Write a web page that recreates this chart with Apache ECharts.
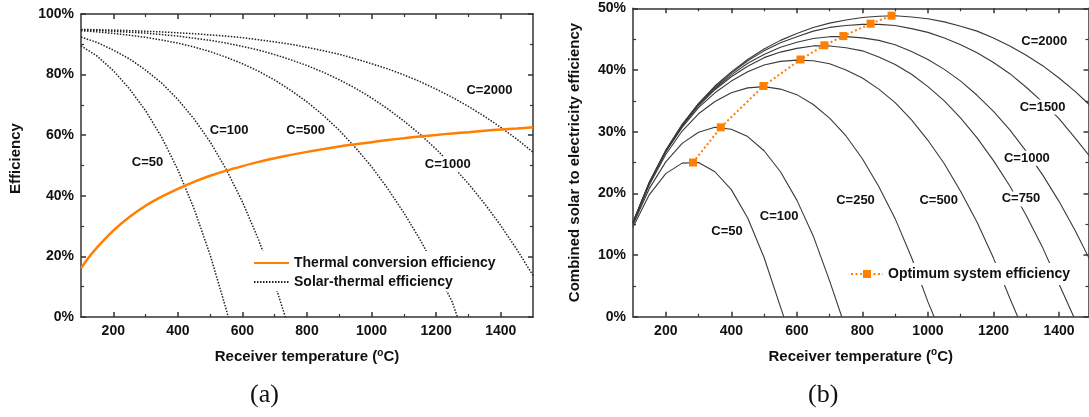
<!DOCTYPE html>
<html>
<head>
<meta charset="utf-8">
<script src="https://cdn.jsdelivr.net/npm/echarts@6/dist/echarts.min.js"></script>
<style>
  html, body { margin: 0; background: #fff; }
  #main { width: 1089px; height: 417px; }
</style>
</head>
<body>
<div id="main"></div>
<script>
// receiver temperature (°C), every 50 degrees
const temps = [100,150,200,250,300,350,400,450,500,550,600,650,700,750,800,850,900,950,1000,1050,1100,1150,1200,1250,1300,1350,1400,1450,1500];

// (a) thermal conversion efficiency (%)
const thermalT = [100,125].concat(temps.slice(1));
const thermalEff = [16.1,19.8,23.0,28.5,33.0,36.7,39.7,42.3,44.6,46.6,48.3,49.8,51.2,52.4,53.5,54.5,55.4,56.3,57.0,57.7,58.4,59.0,59.6,60.1,60.6,61.0,61.5,61.9,62.2,62.6];

// (a) solar-thermal efficiency (%) per concentration
const stT50 = temps.slice(0, 10).concat([556]);
const st50 = [89.5,86.1,81.3,75.3,68.1,59.3,48.6,35.8,20.5,2.4,0];
const stT100 = temps.slice(0, 13).concat([733]);
const st100 = [92.4,90.6,88.1,85.2,81.5,77.2,71.8,65.4,57.8,48.7,38.0,25.5,11.0,0];
const stT500 = temps.slice(0, 24).concat([1266]);
const st500 = [94.5,94.1,93.6,93.0,92.3,91.4,90.4,89.1,87.6,85.7,83.6,81.1,78.2,74.8,71.0,66.6,61.6,55.9,49.6,42.4,34.4,25.6,15.7,4.9,0];
const st1000 = [94.8,94.6,94.3,94.0,93.7,93.2,92.7,92.0,91.3,90.4,89.3,88.1,86.6,84.9,83.0,80.8,78.3,75.5,72.3,68.7,64.7,60.3,55.4,49.9,44.0,37.4,30.2,22.3,13.7];
const st2000 = [94.9,94.8,94.7,94.5,94.3,94.1,93.8,93.5,93.1,92.7,92.2,91.5,90.8,90.0,89.0,87.9,86.7,85.2,83.6,81.9,79.9,77.7,75.2,72.5,69.5,66.2,62.6,58.7,54.4];

// (b) combined solar to electricity efficiency (%)
const cT50 = temps.slice(0, 10).concat([560]);
const c50 = [14.5,19.8,23.2,24.9,25.0,23.5,20.6,16.0,9.6,1.6,0];
const cT100 = temps.slice(0, 13).concat([737]);
const c100 = [14.9,20.8,25.1,28.1,29.9,30.7,30.4,29.2,26.9,23.5,18.9,13.1,5.8,0];
const cT250 = temps.slice(0, 19).concat([1019]);
const c250 = [15.1,21.4,26.3,30.1,32.9,34.9,36.3,37.1,37.3,36.9,36.0,34.4,32.2,29.3,25.6,21.1,15.9,9.6,2.4,0];
const cT500 = temps.slice(0, 24).concat([1274]);
const c500 = [15.2,21.7,26.7,30.7,33.9,36.3,38.2,39.7,40.8,41.4,41.6,41.5,41.0,40.0,38.7,36.9,34.7,31.9,28.6,24.8,20.3,15.3,9.5,3.0,0];
const cT750 = temps.slice(0, 27).concat([1445]);
const c750 = [15.2,21.7,26.8,30.9,34.2,36.8,38.9,40.6,42.0,42.9,43.5,43.9,43.9,43.6,43.1,42.1,40.9,39.3,37.3,35.0,32.2,29.0,25.3,21.2,16.4,11.2,5.3,0];
const c1000 = [15.3,21.8,26.9,31.0,34.4,37.0,39.2,41.1,42.5,43.7,44.5,45.1,45.4,45.4,45.2,44.8,44.1,43.0,41.7,40.1,38.2,35.9,33.3,30.3,26.8,23.0,18.7,13.9,8.6];
const c1500 = [15.3,21.8,26.9,31.1,34.5,37.2,39.5,41.5,43.1,44.4,45.4,46.3,46.9,47.2,47.4,47.4,47.2,46.7,46.1,45.2,44.1,42.8,41.2,39.4,37.2,34.8,32.1,28.9,25.6];
const c2000 = [15.3,21.8,27.0,31.2,34.6,37.4,39.7,41.7,43.4,44.8,45.9,46.9,47.6,48.1,48.5,48.7,48.8,48.6,48.3,47.8,47.1,46.3,45.2,43.9,42.4,40.7,38.7,36.5,34.0];

// (b) optimum system efficiency
const optT = [283,368,498,611,684,742,825,889];
const optEff = [25.0,30.7,37.4,41.7,44.0,45.5,47.5,48.8];

// curve labels [text, temperature, efficiency]
const labelsA = [['C=50',306,51.1],['C=100',559,61.7],['C=500',796,61.7],['C=1000',1236,50.4],['C=2000',1365,74.7]];
const labelsB = [['C=50',387,13.9],['C=100',546,16.2],['C=250',779,18.8],['C=500',1033,18.9],['C=750',1284,19.1],['C=1000',1302,25.7],['C=1500',1350,34.0],['C=2000',1355,44.7]];

// ticks
const xMajor = [200,400,600,800,1000,1200,1400];
const xMinor = [300,500,700,900,1100,1300];

const pts = (xs, ys) => xs.map((x, i) => [x, ys[i]]);
const FONT = '"Liberation Sans", Arial, sans-serif';
const AX = '#333';
const ORANGE = '#ff7f00';

function xAxes(grid, max) {
  const base = { type: 'value', gridIndex: grid, min: 100, max: max, splitLine: { show: false } };
  const line = { lineStyle: { color: AX, width: 1.5 } };
  return [
    Object.assign({}, base, {
      position: 'bottom', axisLine: line,
      axisTick: { inside: true, length: 5, customValues: xMajor, lineStyle: { color: AX, width: 1.5 } },
      axisLabel: { customValues: xMajor, formatter: v => String(v), margin: 7, color: '#111',
        fontFamily: FONT, fontWeight: 'bold', fontSize: 14 },
      name: 'Receiver temperature ({sup|o}C)', nameLocation: 'middle', nameGap: 31,
      nameTextStyle: { color: '#111', fontFamily: FONT, fontWeight: 'bold', fontSize: 15,
        rich: { sup: { fontSize: 10, fontFamily: FONT, fontWeight: 'bold', color: '#111', padding: [0, 0, 8, 0] } } }
    }),
    Object.assign({}, base, { position: 'bottom', axisLine: { show: false }, axisLabel: { show: false },
      axisTick: { inside: true, length: 3, customValues: xMinor, lineStyle: { color: AX, width: 1.2 } } }),
    Object.assign({}, base, { position: 'top', axisLine: line, axisLabel: { show: false },
      axisTick: { inside: true, length: 5, customValues: xMajor, lineStyle: { color: AX, width: 1.5 } } }),
    Object.assign({}, base, { position: 'top', axisLine: { show: false }, axisLabel: { show: false },
      axisTick: { inside: true, length: 3, customValues: xMinor, lineStyle: { color: AX, width: 1.2 } } })
  ];
}

function yAxes(grid, max, step, name, gap, pad) {
  const base = { type: 'value', gridIndex: grid, min: 0, max: max, interval: step, splitLine: { show: false },
    axisLine: { show: true, lineStyle: { color: AX, width: 1.5 } },
    axisTick: { show: true, inside: true, length: 5, lineStyle: { color: AX, width: 1.5 } },
    minorTick: { show: true, splitNumber: 2, length: 3, lineStyle: { color: AX, width: 1.2 } } };
  return [
    Object.assign({}, base, { position: 'left',
      axisLabel: { formatter: '{value}%', margin: 7, color: '#111', fontFamily: FONT, fontWeight: 'bold', fontSize: 14 },
      name: name, nameLocation: 'middle', nameGap: gap,
      nameTextStyle: { color: '#111', fontFamily: FONT, fontWeight: 'bold', fontSize: 15, padding: pad } }),
    Object.assign({}, base, { position: 'right', axisLabel: { show: false } })
  ];
}

function labelSeries(list, xi, yi) {
  return {
    type: 'scatter', xAxisIndex: xi, yAxisIndex: yi, symbolSize: 2, silent: true, z: 5,
    itemStyle: { color: 'rgba(0,0,0,0)', opacity: 1 },
    data: list.map(l => ({ name: l[0], value: [l[1], l[2]] })),
    label: { show: true, position: 'inside', formatter: '{b}', color: '#111', fontFamily: FONT,
      fontWeight: 'bold', fontSize: 13, backgroundColor: '#fff', padding: [1, 2] }
  };
}

const dotted = { color: '#222', width: 1.5, type: [1.5, 1.5] };
const stSeries = (data) => ({ type: 'line', name: 'Solar-thermal efficiency', xAxisIndex: 0, yAxisIndex: 0,
  data: data, showSymbol: false, symbol: 'none', lineStyle: dotted, itemStyle: { color: '#222' }, z: 2 });
const thin = (data) => ({ type: 'line', name: 'curve', xAxisIndex: 4, yAxisIndex: 2, data: data,
  symbol: 'none', lineStyle: { color: '#3a3a3a', width: 1.1 }, z: 2 });

const chart = echarts.init(document.getElementById('main'));
chart.setOption({
  animation: false,
  grid: [
    { left: 81, top: 14, width: 452, height: 303 },
    { left: 633, top: 8.3, width: 455.5, height: 308.4 }
  ],
  xAxis: xAxes(0, 1500).concat(xAxes(1, 1490)),
  yAxis: yAxes(0, 100, 20, 'Efficiency', 58, [0, 0, 0, 14])
    .concat(yAxes(1, 50, 10, 'Combined solar to electricity efficiency', 51, [0, 0, 0, 0])),
  legend: [
    { data: ['Thermal conversion efficiency', 'Solar-thermal efficiency'], orient: 'vertical',
      left: 248, top: 251, itemWidth: 35, itemHeight: 14, itemGap: 5, backgroundColor: '#fff',
      padding: [5, 5, 2, 5], itemStyle: { opacity: 0 },
      textStyle: { color: '#111', fontFamily: FONT, fontWeight: 'bold', fontSize: 14 } },
    { data: ['Optimum system efficiency'], left: 845, top: 263, itemWidth: 32, itemHeight: 10,
      backgroundColor: '#fff', padding: [4, 5, 4, 5],
      textStyle: { color: '#111', fontFamily: FONT, fontWeight: 'bold', fontSize: 14 } }
  ],
  graphic: [
    { type: 'text', left: 250, top: 382, style: { text: '(a)', font: '26px "Liberation Serif", serif', fill: '#111' } },
    { type: 'text', left: 808, top: 382, style: { text: '(b)', font: '26px "Liberation Serif", serif', fill: '#111' } }
  ],
  series: [
    stSeries(pts(stT50, st50)),
    stSeries(pts(stT100, st100)),
    stSeries(pts(stT500, st500)),
    stSeries(pts(temps, st1000)),
    stSeries(pts(temps, st2000)),
    { type: 'line', name: 'Thermal conversion efficiency', xAxisIndex: 0, yAxisIndex: 0,
      data: pts(thermalT, thermalEff), symbol: 'none', smooth: 0.2,
      lineStyle: { color: ORANGE, width: 2.5 }, itemStyle: { color: ORANGE }, z: 3 },
    labelSeries(labelsA, 0, 0),
    thin(pts(cT50, c50)),
    thin(pts(cT100, c100)),
    thin(pts(cT250, c250)),
    thin(pts(cT500, c500)),
    thin(pts(cT750, c750)),
    thin(pts(temps, c1000)),
    thin(pts(temps, c1500)),
    thin(pts(temps, c2000)),
    { type: 'line', name: 'Optimum system efficiency', xAxisIndex: 4, yAxisIndex: 2,
      data: pts(optT, optEff), symbol: 'rect', symbolSize: 8, showSymbol: true,
      lineStyle: { color: ORANGE, width: 2, type: [2, 2.5] }, itemStyle: { color: ORANGE }, z: 4 },
    labelSeries(labelsB, 4, 2)
  ]
});
</script>
</body>
</html>
